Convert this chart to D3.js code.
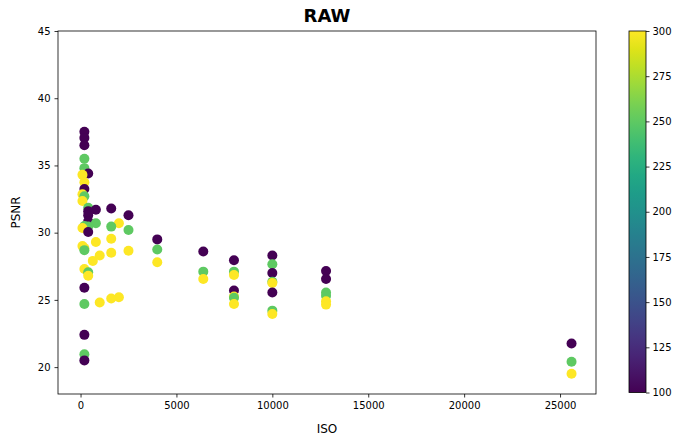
<!DOCTYPE html>
<html>
<head>
<meta charset="utf-8">
<script src="https://cdn.jsdelivr.net/npm/d3@7"></script>
<style>
  body { margin: 0; background: #fff; }
  text { font-family: "DejaVu Sans", sans-serif; fill: #000; }
</style>
</head>
<body>
<div id="chart"></div>
<script>
// colour value for each group (colorbar value)
const levels = [100, 250, 300];

// ISO / PSNR readings per group
const iso100  = [200, 200, 200, 200, 200, 200, 200, 400, 400, 400, 400, 400, 800, 1600, 2500, 4000, 6400, 8000, 8000, 10000, 10000, 10000, 12800, 12800, 25600];
const psnr100 = [37.5, 37.05, 36.5, 33.25, 25.9, 22.4, 20.5, 34.4, 31.6, 31.3, 30.85, 30.05, 31.7, 31.8, 31.3, 29.5, 28.6, 27.95, 25.7, 28.3, 27.0, 25.55, 27.15, 26.55, 21.75];

const iso250  = [200, 200, 200, 200, 200, 200, 200, 400, 400, 400, 800, 1600, 2500, 4000, 6400, 8000, 8000, 10000, 10000, 10000, 12800, 12800, 25600];
const psnr250 = [35.5, 34.8, 32.7, 30.5, 28.7, 24.7, 20.95, 31.85, 30.45, 27.05, 30.7, 30.45, 30.2, 28.75, 27.1, 27.1, 25.15, 27.65, 26.35, 24.2, 25.55, 25.3, 20.4];

const iso300  = [100, 100, 100, 100, 100, 200, 200, 200, 400, 640, 800, 1000, 1000, 1600, 1600, 1600, 2000, 2000, 2500, 4000, 6400, 8000, 8000, 8000, 10000, 10000, 12800, 12800, 25600];
const psnr300 = [34.3, 32.85, 32.35, 30.35, 29.0, 33.75, 28.85, 27.3, 26.8, 27.9, 29.3, 28.3, 24.8, 29.55, 28.5, 25.1, 30.7, 25.2, 28.65, 27.8, 26.55, 26.85, 25.25, 24.7, 26.25, 23.95, 24.9, 24.65, 19.5];

const xTicks = [0, 5000, 10000, 15000, 20000, 25000];
const yTicks = [20, 25, 30, 35, 40, 45];
const cbTicks = [100, 125, 150, 175, 200, 225, 250, 275, 300];

const groups = [
    {level: levels[0], iso: iso100, psnr: psnr100},
    {level: levels[1], iso: iso250, psnr: psnr250},
    {level: levels[2], iso: iso300, psnr: psnr300}
];

const W = 680, H = 439;
const margin = {top: 31, left: 58};
const plotW = 538, plotH = 363;

const svg = d3.select('#chart').append('svg')
    .attr('width', W)
    .attr('height', H);

const x = d3.scaleLinear().domain([-1175, 26875]).range([0, plotW]);
const y = d3.scaleLinear().domain([18, 45]).range([plotH, 0]);
const color = d3.scaleSequential(d3.interpolateViridis).domain([100, 300]);

const g = svg.append('g')
    .attr('transform', `translate(${margin.left},${margin.top})`);

// points, lower PSNR drawn later (on top)
let points = [];
groups.forEach(function(grp) {
    grp.iso.forEach(function(v, i) {
        points.push({iso: v, psnr: grp.psnr[i], level: grp.level});
    });
});
points.sort((a, b) => b.psnr - a.psnr);

g.selectAll('circle')
    .data(points)
    .enter()
    .append('circle')
    .attr('cx', d => x(d.iso))
    .attr('cy', d => y(d.psnr))
    .attr('r', 5)
    .attr('fill', d => color(d.level));

// axes
const xAxis = g.append('g')
    .attr('transform', `translate(0,${plotH})`)
    .call(d3.axisBottom(x).tickValues(xTicks).tickSize(3.5).tickPadding(4).tickFormat(d3.format('d')));
const yAxis = g.append('g')
    .call(d3.axisLeft(y).tickValues(yTicks).tickSize(3.5).tickPadding(4).tickFormat(d3.format('d')));

[xAxis, yAxis].forEach(function(ax) {
    ax.select('.domain').remove();
    ax.selectAll('line').attr('stroke', '#000').attr('stroke-width', 0.8);
    ax.selectAll('text').attr('font-size', 10).attr('fill', '#000')
        .style('font-family', '"DejaVu Sans", sans-serif');
});

// frame
g.append('rect')
    .attr('width', plotW)
    .attr('height', plotH)
    .attr('fill', 'none')
    .attr('stroke', '#000')
    .attr('stroke-width', 0.8);

// labels
svg.append('text')
    .attr('x', margin.left + plotW / 2)
    .attr('y', 22)
    .attr('text-anchor', 'middle')
    .attr('font-size', 18)
    .attr('font-weight', 'bold')
    .text('RAW');

svg.append('text')
    .attr('x', margin.left + plotW / 2)
    .attr('y', 433)
    .attr('text-anchor', 'middle')
    .attr('font-size', 12)
    .text('ISO');

svg.append('text')
    .attr('transform', `translate(20,${margin.top + plotH / 2}) rotate(-90)`)
    .attr('text-anchor', 'middle')
    .attr('font-size', 12)
    .text('PSNR');

// colorbar
const cbX = 629, cbW = 17;
const cb = d3.scaleLinear().domain([100, 300]).range([392.5, 31]);

const grad = svg.append('defs').append('linearGradient')
    .attr('id', 'viridis')
    .attr('x1', 0).attr('y1', 1).attr('x2', 0).attr('y2', 0);
d3.range(0, 1.0001, 0.05).forEach(function(t) {
    grad.append('stop')
        .attr('offset', t)
        .attr('stop-color', d3.interpolateViridis(t));
});

svg.append('rect')
    .attr('x', cbX)
    .attr('y', cb(300))
    .attr('width', cbW)
    .attr('height', cb(100) - cb(300))
    .attr('fill', 'url(#viridis)')
    .attr('stroke', '#000')
    .attr('stroke-width', 0.8);

const cbAxis = svg.append('g')
    .attr('transform', `translate(${cbX + cbW},0)`)
    .call(d3.axisRight(cb).tickValues(cbTicks).tickSize(3.5).tickPadding(3));
cbAxis.select('.domain').remove();
cbAxis.selectAll('line').attr('stroke', '#000').attr('stroke-width', 0.8);
cbAxis.selectAll('text').attr('font-size', 10).attr('fill', '#000')
    .style('font-family', '"DejaVu Sans", sans-serif');
</script>
</body>
</html>
